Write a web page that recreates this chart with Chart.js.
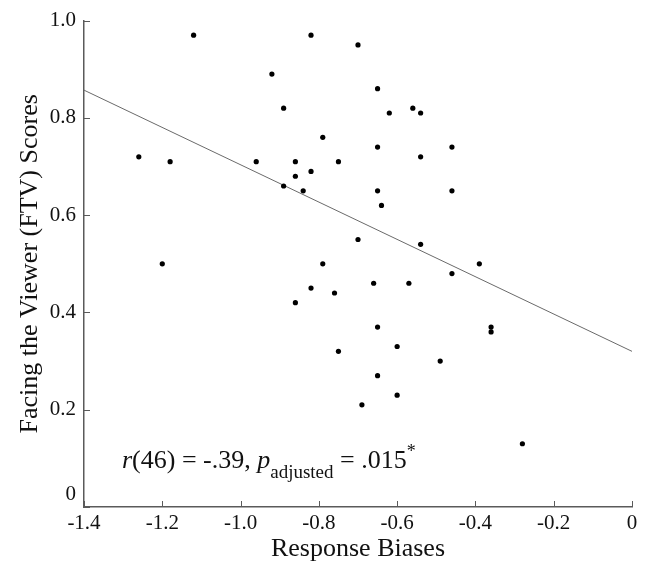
<!DOCTYPE html>
<html>
<head>
<meta charset="utf-8">
<script src="https://cdn.jsdelivr.net/npm/chart.js@4/dist/chart.umd.min.js"></script>
<style>
  html, body { margin: 0; padding: 0; background: #fff; }
</style>
</head>
<body>
<canvas id="chart-ftv" width="649" height="567"></canvas>
<script>
// Response biases (x) and FTV scores (y), one entry per participant
var biases = [-1.12, -0.82, -0.70, -0.92, -0.89, -0.79, -1.26, -1.18, -0.96, -0.86,
              -0.75, -0.82, -0.86, -0.89, -0.84, -0.70, -1.20, -0.79, -0.65, -0.56,
              -0.62, -0.54, -0.65, -0.46, -0.54, -0.65, -0.46, -0.64, -0.54, -0.39,
              -0.46, -0.66, -0.57, -0.65, -0.36, -0.36, -0.60, -0.49, -0.65, -0.60,
              -0.69, -0.28, -0.82, -0.76, -0.86, -0.75];
var ftvScores = [0.97, 0.97, 0.95, 0.89, 0.82, 0.76, 0.72, 0.71, 0.71, 0.71,
                 0.71, 0.69, 0.68, 0.66, 0.65, 0.55, 0.50, 0.50, 0.86, 0.82,
                 0.81, 0.81, 0.74, 0.74, 0.72, 0.65, 0.65, 0.62, 0.54, 0.50,
                 0.48, 0.46, 0.46, 0.37, 0.37, 0.36, 0.33, 0.30, 0.27, 0.23,
                 0.21, 0.13, 0.45, 0.44, 0.42, 0.32];

// fitted line, ends
var fitX = [-1.4, 0];
var fitY = [0.857, 0.32];

var xTicks = [-1.4, -1.2, -1.0, -0.8, -0.6, -0.4, -0.2, 0];
var yTicks = [0, 0.2, 0.4, 0.6, 0.8, 1.0];

var SERIF = "'Liberation Serif', 'Times New Roman', serif";
var AXIS_COLOR = '#5a5a5a';

var points = biases.map(function (b, i) { return { x: b, y: ftvScores[i] }; });
var fitLine = fitX.map(function (x, i) { return { x: x, y: fitY[i] }; });

// tick marks point into the plot
var innerTicks = {
    id: 'innerTicks',
    afterDraw: function (chart) {
        var ctx = chart.ctx;
        var xs = chart.scales.x, ys = chart.scales.y;
        var len = 6;
        ctx.save();
        ctx.strokeStyle = AXIS_COLOR;
        ctx.lineWidth = 1;
        xs.ticks.forEach(function (t) {
            var px = Math.round(xs.getPixelForValue(t.value)) + 0.5;
            ctx.beginPath();
            ctx.moveTo(px, ys.bottom);
            ctx.lineTo(px, ys.bottom - len);
            ctx.stroke();
        });
        ys.ticks.forEach(function (t) {
            var py = Math.round(ys.getPixelForValue(t.value)) + 0.5;
            ctx.beginPath();
            ctx.moveTo(xs.left, py);
            ctx.lineTo(xs.left + len, py);
            ctx.stroke();
        });
        ctx.restore();
    }
};

// r(46) = -.39, p_adjusted = .015*
var statsText = {
    id: 'statsText',
    afterDraw: function (chart) {
        var ctx = chart.ctx;
        var x = chart.scales.x.getPixelForValue(-1.303);
        var y = chart.scales.y.getPixelForValue(0.08);
        var parts = [
            { t: 'r', f: 'italic 26px ' + SERIF, dy: 0 },
            { t: '(46) = -.39, ', f: '26px ' + SERIF, dy: 0 },
            { t: 'p', f: 'italic 26px ' + SERIF, dy: 0 },
            { t: 'adjusted', f: '19px ' + SERIF, dy: 10 },
            { t: ' = .015', f: '26px ' + SERIF, dy: 0 },
            { t: '*', f: '18px ' + SERIF, dy: -11 }
        ];
        ctx.save();
        ctx.fillStyle = '#111';
        ctx.textBaseline = 'alphabetic';
        ctx.textAlign = 'left';
        parts.forEach(function (p) {
            ctx.font = p.f;
            ctx.fillText(p.t, x, y + p.dy);
            x += ctx.measureText(p.t).width;
        });
        ctx.restore();
    }
};

var ctx = document.getElementById('chart-ftv').getContext('2d');
var chartFtv = new Chart(ctx, {
    type: 'scatter',
    data: {
        datasets: [{
            label: 'FTV',
            data: points,
            backgroundColor: '#000',
            borderWidth: 0,
            pointRadius: 2.6
        }, {
            type: 'line',
            label: 'fit',
            data: fitLine,
            borderColor: '#6a6a6a',
            borderWidth: 1,
            pointRadius: 0,
            fill: false
        }]
    },
    options: {
        responsive: false,
        devicePixelRatio: 1,
        animation: false,
        layout: { padding: { top: 19, right: 17, left: 0, bottom: 0 } },
        plugins: {
            legend: { display: false },
            tooltip: { enabled: false }
        },
        scales: {
            x: {
                type: 'linear',
                min: -1.4,
                max: 0,
                afterBuildTicks: function (scale) {
                    scale.ticks = xTicks.map(function (v) { return { value: v }; });
                },
                afterFit: function (scale) { scale.height = 60; },
                grid: { display: false, drawTicks: false },
                border: { display: true, color: AXIS_COLOR, width: 1.5 },
                ticks: {
                    padding: 4,
                    color: '#111',
                    font: { family: SERIF, size: 21 },
                    maxRotation: 0,
                    callback: function (v) { return v === 0 ? '0' : v.toFixed(1); }
                },
                title: {
                    display: true,
                    text: 'Response Biases',
                    color: '#111',
                    font: { family: SERIF, size: 26 },
                    padding: { top: 0, bottom: 2 }
                }
            },
            y: {
                type: 'linear',
                min: 0,
                max: 1,
                afterBuildTicks: function (scale) {
                    scale.ticks = yTicks.map(function (v) { return { value: v }; });
                },
                afterFit: function (scale) { scale.width = 84; },
                grid: { display: false, drawTicks: false },
                border: { display: true, color: AXIS_COLOR, width: 1.5 },
                ticks: {
                    padding: 8,
                    color: '#111',
                    font: { family: SERIF, size: 21 },
                    callback: function (v) { return v === 0 ? ['0', ''] : v.toFixed(1); }
                },
                title: {
                    display: true,
                    text: 'Facing the Viewer (FTV) Scores',
                    color: '#111',
                    font: { family: SERIF, size: 26 },
                    padding: { top: 15, bottom: 0 }
                }
            }
        }
    },
    plugins: [innerTicks, statsText]
});
</script>
</body>
</html>
